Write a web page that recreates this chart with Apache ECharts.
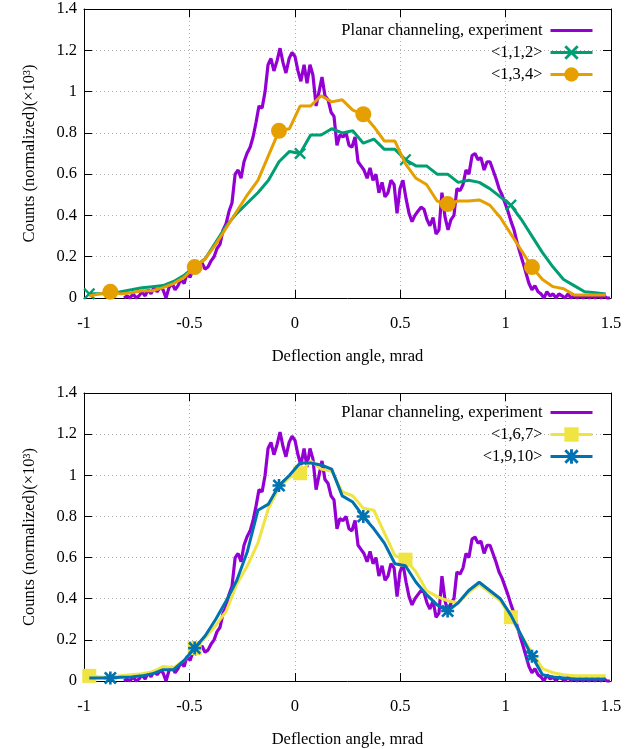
<!DOCTYPE html>
<html>
<head>
<meta charset="utf-8">
<script src="https://cdn.jsdelivr.net/npm/echarts@6/dist/echarts.min.js"></script>
<style>
html,body{margin:0;padding:0;background:#fff;}
#chart{width:635px;height:749px;}
</style>
</head>
<body>
<div id="chart"></div>
<script>
// ---- Data ----
const xTicks = [-1, -0.5, 0, 0.5, 1, 1.5];
const yTicks = [0, 0.2, 0.4, 0.6, 0.8, 1.0, 1.2, 1.4];

// Planar channeling, experiment (deflection angle in mrad, counts x10^3 normalized)
const expX = [
-0.810,-0.796,-0.782,-0.767,-0.753,-0.739,-0.725,-0.710,-0.696,-0.682,
-0.668,-0.653,-0.639,-0.625,-0.611,-0.597,-0.582,-0.568,-0.554,-0.540,
-0.525,-0.511,-0.497,-0.483,-0.468,-0.454,-0.440,-0.426,-0.412,-0.397,
-0.383,-0.369,-0.355,-0.340,-0.326,-0.312,-0.298,-0.283,-0.269,-0.255,
-0.241,-0.227,-0.212,-0.198,-0.184,-0.170,-0.155,-0.141,-0.127,-0.113,
-0.099,-0.084,-0.070,-0.056,-0.042,-0.027,-0.013,0.001,0.015,0.029,
0.044,0.058,0.072,0.086,0.101,0.115,0.129,0.143,0.158,0.172,
0.186,0.200,0.214,0.229,0.243,0.257,0.271,0.286,0.300,0.314,
0.328,0.343,0.357,0.371,0.385,0.399,0.414,0.428,0.442,0.456,
0.471,0.485,0.499,0.513,0.528,0.542,0.556,0.570,0.584,0.599,
0.613,0.627,0.641,0.656,0.670,0.684,0.698,0.713,0.727,0.741,
0.755,0.769,0.784,0.798,0.812,0.826,0.841,0.855,0.869,0.883,
0.898,0.912,0.926,0.940,0.954,0.969,0.983,0.997,1.011,1.026,
1.040,1.054,1.068,1.083,1.097,1.111,1.125,1.139,1.154,1.168,
1.182,1.196,1.211,1.225,1.239,1.253,1.268,1.282,1.296,1.310,
1.324,1.339,1.353,1.367,1.381,1.396,1.410,1.424,1.438,1.453,
1.467,1.481,1.495];
const expY = [
0.00,0.01,0.00,0.02,0.00,0.01,0.03,0.01,0.04,0.02,
0.05,0.03,0.05,0.04,0.00,0.05,0.07,0.04,0.06,0.09,
0.07,0.12,0.10,0.14,0.13,0.16,0.17,0.14,0.15,0.18,
0.20,0.24,0.26,0.33,0.36,0.42,0.46,0.60,0.62,0.58,
0.66,0.70,0.73,0.78,0.85,0.93,0.92,1.00,1.13,1.16,
1.10,1.15,1.21,1.14,1.09,1.16,1.19,1.17,1.10,1.05,
1.13,1.04,1.13,1.08,0.93,1.00,1.07,0.98,0.96,0.90,
0.88,0.74,0.79,0.78,0.80,0.74,0.73,0.78,0.66,0.64,
0.62,0.58,0.63,0.57,0.60,0.51,0.56,0.49,0.51,0.57,
0.55,0.41,0.53,0.57,0.48,0.41,0.37,0.40,0.42,0.44,
0.43,0.38,0.35,0.39,0.31,0.33,0.51,0.39,0.33,0.38,
0.40,0.53,0.52,0.55,0.62,0.60,0.69,0.70,0.67,0.68,
0.62,0.66,0.66,0.62,0.58,0.53,0.50,0.46,0.42,0.37,
0.33,0.27,0.22,0.17,0.12,0.07,0.04,0.06,0.03,0.02,
0.00,0.03,0.01,0.02,0.00,0.02,0.01,0.00,0.02,0.00,
0.01,0.00,0.01,0.00,0.01,0.00,0.01,0.00,0.01,0.00,
0.01,0.00,0.00];

// Simulations (bin centres)
const simX = [
-0.975,-0.925,-0.875,-0.825,-0.775,-0.725,-0.675,-0.625,-0.575,-0.525,
-0.475,-0.425,-0.375,-0.325,-0.275,-0.225,-0.175,-0.125,-0.075,-0.025,
0.025,0.075,0.125,0.175,0.225,0.275,0.325,0.375,0.425,0.475,
0.525,0.575,0.625,0.675,0.725,0.775,0.825,0.875,0.925,0.975,
1.025,1.075,1.125,1.175,1.225,1.275,1.325,1.375,1.425,1.475];
const sim112 = [
0.02,0.02,0.02,0.03,0.04,0.05,0.055,0.06,0.08,0.11,
0.15,0.19,0.27,0.35,0.41,0.46,0.51,0.57,0.66,0.71,
0.70,0.79,0.79,0.82,0.80,0.81,0.75,0.77,0.72,0.72,
0.67,0.64,0.64,0.60,0.60,0.56,0.57,0.56,0.53,0.49,
0.45,0.38,0.30,0.22,0.15,0.09,0.06,0.03,0.025,0.02];
const sim134 = [
0.01,0.02,0.03,0.02,0.025,0.035,0.035,0.05,0.07,0.10,
0.15,0.19,0.26,0.34,0.42,0.50,0.57,0.69,0.81,0.82,
0.93,0.93,0.98,0.95,0.96,0.91,0.89,0.83,0.76,0.76,
0.65,0.58,0.55,0.47,0.455,0.47,0.47,0.475,0.45,0.39,
0.31,0.23,0.15,0.09,0.055,0.045,0.015,0.015,0.015,0.015];
const sim167 = [
0.025,0.02,0.02,0.025,0.03,0.035,0.045,0.07,0.065,0.10,
0.16,0.21,0.27,0.34,0.47,0.56,0.67,0.84,0.94,0.99,
1.01,1.07,1.03,1.02,0.92,0.90,0.84,0.83,0.72,0.61,
0.59,0.53,0.44,0.41,0.39,0.38,0.43,0.47,0.43,0.39,
0.31,0.22,0.14,0.06,0.04,0.03,0.025,0.025,0.025,0.025];
const sim1910 = [
0.015,0.015,0.015,0.018,0.02,0.025,0.035,0.055,0.055,0.10,
0.16,0.22,0.30,0.39,0.49,0.63,0.83,0.86,0.95,1.00,
1.06,1.06,1.05,1.03,0.90,0.87,0.80,0.74,0.67,0.57,
0.56,0.48,0.42,0.37,0.34,0.38,0.44,0.48,0.44,0.40,
0.32,0.22,0.12,0.03,0.02,0.015,0.01,0.01,0.01,0.01];
// indices of points carrying a marker
const mk112 = [0, 10, 20, 30, 40];
const mk134 = [2, 10, 18, 26, 34, 42];
const mk167 = [0, 10, 20, 30, 40];
const mk1910 = [2, 10, 18, 26, 34, 42];

const names = {
  exp: 'Planar channeling, experiment',
  s112: '<1,1,2>', s134: '<1,3,4>', s167: '<1,6,7>', s1910: '<1,9,10>'
};

// ---- Style ----
const FONT = "'Liberation Serif','Times New Roman',serif";
const FS = 16.5;
const C = { purple:'#9400d3', green:'#009e73', orange:'#e69f00', yellow:'#f0e442', blue:'#0072b2' };
const SYM_X = 'path://M0,1.4 L1.4,0 L5,3.6 L8.6,0 L10,1.4 L6.4,5 L10,8.6 L8.6,10 L5,6.4 L1.4,10 L0,8.6 L3.6,5 Z';
const SYM_STAR = 'path://M4,0 L6,0 L6,4 L10,4 L10,6 L6,6 L6,10 L4,10 L4,6 L0,6 L0,4 L4,4 Z M0,1.4 L1.4,0 L5,3.6 L8.6,0 L10,1.4 L6.4,5 L10,8.6 L8.6,10 L5,6.4 L1.4,10 L0,8.6 L3.6,5 Z';

function pairs(xs, ys, marks) {
  return xs.map((x, i) => {
    const o = { value: [x, ys[i]] };
    if (marks && marks.indexOf(i) < 0) o.symbol = 'none';
    return o;
  });
}

function expSeries(g) {
  return {
    name: names.exp, type: 'line', xAxisIndex: g*2, yAxisIndex: g*2,
    data: expX.map((x, i) => [x, expY[i]]),
    symbol: 'none', showSymbol: false, clip: false,
    lineStyle: { color: C.purple, width: 3.2 }, itemStyle: { color: C.purple },
    animation: false, z: 2
  };
}
function simSeries(g, name, ys, marks, color, sym, size, z) {
  return {
    name: name, type: 'line', xAxisIndex: g*2, yAxisIndex: g*2,
    data: pairs(simX, ys, marks),
    symbol: sym, symbolSize: size, showSymbol: true, clip: false,
    lineStyle: { color: color, width: 3 }, itemStyle: { color: color },
    animation: false, z: z
  };
}

const grids = [
  { left: 84, top: 9, width: 527, height: 289 },
  { left: 84, top: 393, width: 527, height: 288 }
];

const xAxes = [], yAxes = [];
grids.forEach((gr, g) => {
  xAxes.push({
    type: 'value', gridIndex: g, min: -1, max: 1.5, interval: 0.5, position: 'bottom',
    name: 'Deflection angle, mrad', nameLocation: 'middle', nameGap: 50,
    nameTextStyle: { fontFamily: FONT, fontSize: FS, color: '#000' },
    axisLine: { show: true, onZero: false, lineStyle: { color: '#000', width: 1 } },
    axisTick: { show: true, inside: true, length: 8, lineStyle: { color: '#000' } },
    axisLabel: { fontFamily: FONT, fontSize: FS, color: '#000', margin: 17 },
    splitLine: { show: true, lineStyle: { color: '#b0b0b0', type: [1, 3], width: 1 } }
  });
  xAxes.push({
    type: 'value', gridIndex: g, min: -1, max: 1.5, interval: 0.5, position: 'top',
    axisLine: { show: true, onZero: false, lineStyle: { color: '#000', width: 1 } },
    axisTick: { show: true, inside: true, length: 8, lineStyle: { color: '#000' } },
    axisLabel: { show: false }, splitLine: { show: false }
  });
  yAxes.push({
    type: 'value', gridIndex: g, min: 0, max: 1.4, interval: 0.2, position: 'left',
    name: 'Counts (normalized)(×10³)', nameLocation: 'middle', nameGap: 46, nameRotate: 90,
    nameTextStyle: { fontFamily: FONT, fontSize: FS, color: '#000' },
    axisLine: { show: true, onZero: false, lineStyle: { color: '#000', width: 1 } },
    axisTick: { show: true, inside: true, length: 8, lineStyle: { color: '#000' } },
    axisLabel: { fontFamily: FONT, fontSize: FS, color: '#000', margin: 7 },
    splitLine: { show: true, lineStyle: { color: '#b0b0b0', type: [1, 3], width: 1 } }
  });
  yAxes.push({
    type: 'value', gridIndex: g, min: 0, max: 1.4, interval: 0.2, position: 'right',
    axisLine: { show: true, onZero: false, lineStyle: { color: '#000', width: 1 } },
    axisTick: { show: true, inside: true, length: 8, lineStyle: { color: '#000' } },
    axisLabel: { show: false }, splitLine: { show: false }
  });
});

function legend(top, list) {
  return {
    orient: 'vertical', right: 41, top: top, padding: 0, align: 'right',
    itemWidth: 42, itemHeight: 18, itemGap: 5,
    lineStyle: { width: 3 },
    textStyle: { fontFamily: FONT, fontSize: FS, color: '#000', padding: [0, 3, 0, 0] },
    selectedMode: false,
    data: list
  };
}

const option = {
  backgroundColor: '#fff',
  animation: false,
  grid: grids,
  xAxis: xAxes,
  yAxis: yAxes,
  legend: [
    legend(22, [{ name: names.exp, itemStyle: { opacity: 0 } }, names.s112, names.s134]),
    legend(404, [{ name: names.exp, itemStyle: { opacity: 0 } }, names.s167, names.s1910])
  ],
  series: [
    expSeries(0),
    simSeries(0, names.s112, sim112, mk112, C.green, SYM_X, 12, 3),
    simSeries(0, names.s134, sim134, mk134, C.orange, 'circle', 16, 4),
    expSeries(1),
    simSeries(1, names.s167, sim167, mk167, C.yellow, 'rect', 14, 3),
    simSeries(1, names.s1910, sim1910, mk1910, C.blue, SYM_STAR, 13, 4)
  ]
};

const chart = echarts.init(document.getElementById('chart'), null, { renderer: 'canvas' });
chart.setOption(option);
</script>
</body>
</html>
